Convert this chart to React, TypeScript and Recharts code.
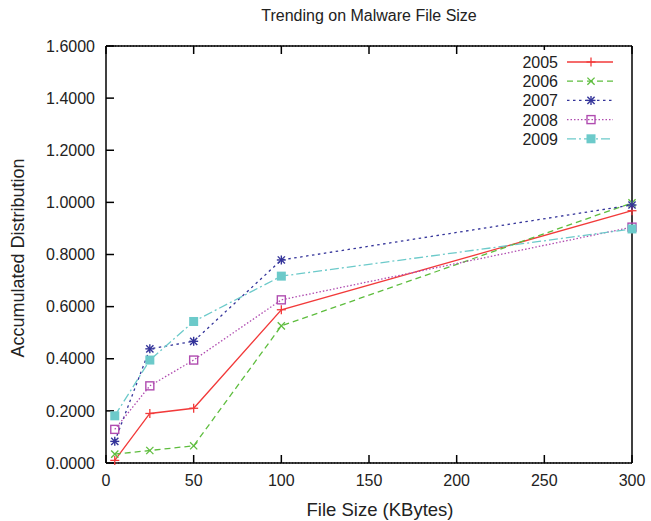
import React from 'react';
import { LineChart, Line, XAxis, YAxis, CartesianGrid } from 'recharts';

const fileSizes = [5, 25, 50, 100, 300];
const s2005 = [0.01, 0.19, 0.21, 0.588, 0.968];
const s2006 = [0.034, 0.048, 0.066, 0.526, 0.998];
const s2007 = [0.083, 0.438, 0.467, 0.779, 0.99];
const s2008 = [0.129, 0.296, 0.395, 0.626, 0.905];
const s2009 = [0.181, 0.395, 0.543, 0.717, 0.898];
const xTicks = [0, 50, 100, 150, 200, 250, 300];
const yTicks = [0, 0.2, 0.4, 0.6, 0.8, 1.0, 1.2, 1.4, 1.6];

const title = 'Trending on Malware File Size';
const xTitle = 'File Size (KBytes)';
const yTitle = 'Accumulated Distribution';

type MarkerKind = 'plus' | 'cross' | 'star' | 'box' | 'fbox';

const seriesDefs: { key: string; name: string; values: number[]; color: string; dash?: string; marker: MarkerKind }[] = [
  { key: 'y2005', name: '2005', values: s2005, color: '#f23a3a', marker: 'plus' },
  { key: 'y2006', name: '2006', values: s2006, color: '#5ebd3e', dash: '6 4', marker: 'cross' },
  { key: 'y2007', name: '2007', values: s2007, color: '#34349a', dash: '2.5 3.5', marker: 'star' },
  { key: 'y2008', name: '2008', values: s2008, color: '#b04cb0', dash: '1.5 2', marker: 'box' },
  { key: 'y2009', name: '2009', values: s2009, color: '#6ccaca', dash: '9 3 2 3', marker: 'fbox' },
];

const data = fileSizes.map((size, i) => {
  const row: Record<string, number> = { size };
  seriesDefs.forEach((s) => {
    row[s.key] = s.values[i];
  });
  return row;
});

const FONT = '"Liberation Sans", Arial, Helvetica, sans-serif';

function Marker({ cx, cy, kind, color }: { cx: number; cy: number; kind: MarkerKind; color: string }) {
  const r = 4.5;
  if (kind === 'plus') {
    return (
      <g stroke={color} strokeWidth={1.3}>
        <line x1={cx - r} y1={cy} x2={cx + r} y2={cy} />
        <line x1={cx} y1={cy - r} x2={cx} y2={cy + r} />
      </g>
    );
  }
  if (kind === 'cross') {
    const d = 3.6;
    return (
      <g stroke={color} strokeWidth={1.3}>
        <line x1={cx - d} y1={cy - d} x2={cx + d} y2={cy + d} />
        <line x1={cx - d} y1={cy + d} x2={cx + d} y2={cy - d} />
      </g>
    );
  }
  if (kind === 'star') {
    const d = 3.6;
    return (
      <g stroke={color} strokeWidth={1.4}>
        <line x1={cx - r} y1={cy} x2={cx + r} y2={cy} />
        <line x1={cx} y1={cy - r} x2={cx} y2={cy + r} />
        <line x1={cx - d} y1={cy - d} x2={cx + d} y2={cy + d} />
        <line x1={cx - d} y1={cy + d} x2={cx + d} y2={cy - d} />
      </g>
    );
  }
  if (kind === 'box') {
    return <rect x={cx - 4} y={cy - 4} width={8} height={8} fill="none" stroke={color} strokeWidth={1.4} />;
  }
  return <rect x={cx - 4.5} y={cy - 4.5} width={9} height={9} fill={color} stroke="none" />;
}

const makeDot = (kind: MarkerKind, color: string) => (props: any) => {
  const { cx, cy, index } = props;
  if (cx == null || cy == null) return <g key={`d-${index}`} />;
  return (
    <g key={`d-${kind}-${index}`}>
      <Marker cx={cx} cy={cy} kind={kind} color={color} />
    </g>
  );
};

const tickStyle = { fontFamily: FONT, fontSize: 16, fill: '#222' };

export default function App() {
  return (
    <div style={{ position: 'absolute', left: 0, top: 0, width: 651, height: 521, background: '#fff' }}>
      <LineChart
        width={651}
        height={521}
        data={data}
        margin={{ top: 45, right: 18, bottom: 0, left: 0 }}
      >
        <CartesianGrid vertical={false} stroke="#000" strokeDasharray="1 2" strokeWidth={1} />
        <XAxis
          xAxisId="b"
          type="number"
          dataKey="size"
          domain={[0, 300]}
          ticks={xTicks}
          orientation="bottom"
          height={58}
          stroke="#000"
          strokeWidth={1.5}
          tickSize={-8}
          tickMargin={20}
          tick={tickStyle}
          interval={0}
        />
        <XAxis
          xAxisId="t"
          type="number"
          dataKey="size"
          domain={[0, 300]}
          ticks={xTicks}
          orientation="top"
          height={1}
          stroke="#000"
          strokeWidth={1.5}
          tickSize={-8}
          tickFormatter={() => ''}
        />
        <YAxis
          yAxisId="l"
          type="number"
          domain={[0, 1.6]}
          ticks={yTicks}
          width={106}
          stroke="#000"
          strokeWidth={1.5}
          tickSize={-8}
          tickMargin={19}
          tick={tickStyle}
          tickFormatter={(v: number) => v.toFixed(4)}
          interval={0}
        />
        <YAxis
          yAxisId="r"
          type="number"
          orientation="right"
          domain={[0, 1.6]}
          ticks={yTicks}
          width={1}
          stroke="#000"
          strokeWidth={1.5}
          tickSize={-8}
          tickFormatter={() => ''}
        />
        {seriesDefs.map((s) => (
          <Line
            key={s.key}
            xAxisId="b"
            yAxisId="l"
            type="linear"
            dataKey={s.key}
            name={s.name}
            stroke={s.color}
            strokeWidth={1.3}
            strokeDasharray={s.dash}
            dot={makeDot(s.marker, s.color)}
            activeDot={false}
            isAnimationActive={false}
          />
        ))}
      </LineChart>
      <svg
        width={651}
        height={521}
        style={{ position: 'absolute', left: 0, top: 0, pointerEvents: 'none' }}
      >
        <text x={369} y={21} textAnchor="middle" fontFamily={FONT} fontSize={16} fill="#222">
          {title}
        </text>
        <text x={380} y={516} textAnchor="middle" fontFamily={FONT} fontSize={18.5} fill="#222">
          {xTitle}
        </text>
        <text
          x={0}
          y={0}
          transform="translate(24 258) rotate(-90)"
          textAnchor="middle"
          fontFamily={FONT}
          fontSize={18}
          fill="#222"
        >
          {yTitle}
        </text>
        <rect x={518} y={50} width={106} height={96} fill="#fff" />
        {seriesDefs.map((s, i) => {
          const y = 62 + i * 19.2;
          return (
            <g key={s.key}>
              <text x={558} y={y + 6} textAnchor="end" fontFamily={FONT} fontSize={16} fill="#222">
                {s.name}
              </text>
              <line x1={567} y1={y} x2={613} y2={y} stroke={s.color} strokeWidth={1.3} strokeDasharray={s.dash} />
              <Marker cx={591} cy={y} kind={s.marker} color={s.color} />
            </g>
          );
        })}
      </svg>
    </div>
  );
}
